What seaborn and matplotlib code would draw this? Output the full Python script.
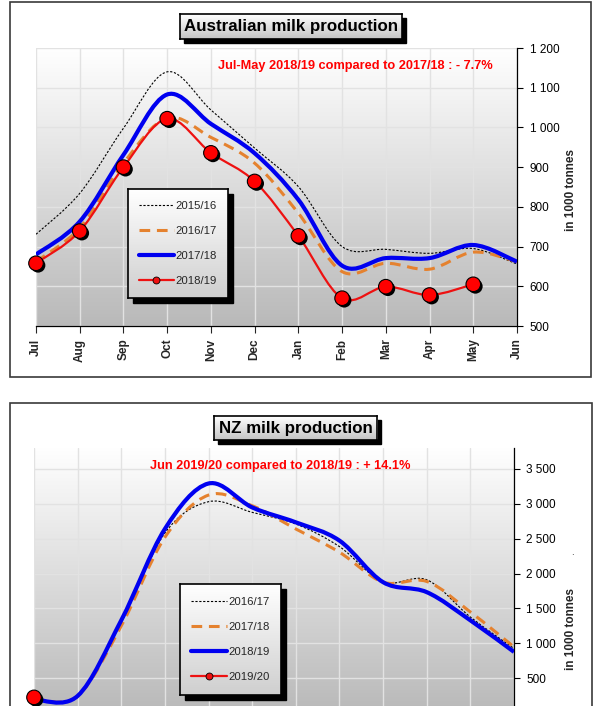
"""
Australian and NZ milk production, monthly, in 1000 tonnes
two stacked panels, smoothed lines like the spreadsheet original
"""

import numpy as np
import pandas as pd
import matplotlib
matplotlib.use("Agg")
import matplotlib.pyplot as plt
import matplotlib.patheffects as pe
from matplotlib.path import Path
from matplotlib.patches import PathPatch, Rectangle
from matplotlib.colors import LinearSegmentedColormap
from matplotlib.lines import Line2D
from matplotlib.ticker import FuncFormatter
import seaborn as sns

# Australia, season Jul-Jun
au_months = ["Jul", "Aug", "Sep", "Oct", "Nov", "Dec", "Jan", "Feb", "Mar", "Apr", "May", "Jun"]
au_1516 = [731, 834, 998, 1140, 1044, 948, 851, 700, 693, 683, 695, 656]
au_1617 = [662, 747, 910, 1024, 975, 910, 784, 637, 658, 643, 686, 662]
au_1718 = [680, 763, 931, 1083, 1009, 935, 818, 652, 671, 671, 704, 662]
au_1819 = [658, 739, 900, 1022, 936, 864, 727, 570, 599, 578, 605]
au_labels = ["2015/16", "2016/17", "2017/18", "2018/19"]
au_note = "Jul-May 2018/19 compared to 2017/18 : - 7.7%"

# New Zealand, season Jun-May
nz_months = ["Jun", "Jul", "Aug", "Sep", "Oct", "Nov", "Dec", "Jan", "Feb", "Mar", "Apr", "May"]
nz_1617 = [200, 250, 1300, 2580, 3030, 2877, 2710, 2386, 1880, 1910, 1376, 924]
nz_1718 = [200, 245, 1250, 2520, 3125, 2972, 2639, 2305, 1876, 1886, 1448, 948]
nz_1819 = [196, 245, 1330, 2640, 3291, 2948, 2734, 2472, 1876, 1733, 1329, 876]
nz_1920 = [224]
nz_labels = ["2016/17", "2017/18", "2018/19", "2019/20"]
nz_note = "Jun 2019/20 compared to 2018/19 : + 14.1%"

W, H = 600, 706

sns.set_style("white")
plt.rcParams["font.family"] = ["Liberation Sans", "DejaVu Sans"]

styles = [
    dict(color="black", lw=0.8, ls=(0, (2, 1.5))),
    dict(color="#e5822f", lw=2.2, ls=(0, (3.5, 2.2))),
    dict(color="#0000f0", lw=3.0, ls="-"),
    dict(color="#ee1111", lw=1.6, ls="-"),
]


def fig_rect(x0, y0, x1, y1):
    # pixel box (top-left origin) -> figure fraction [l, b, w, h]
    return [x0 / W, 1 - y1 / H, (x1 - x0) / W, (y1 - y0) / H]


def smooth_path(ys):
    # bezier through the monthly points, like excel's "smoothed line"
    pts = np.column_stack([np.arange(len(ys)), ys]).astype(float)
    verts, codes = [pts[0]], [Path.MOVETO]
    n = len(pts)
    for i in range(n - 1):
        p0 = pts[max(i - 1, 0)]
        p1, p2 = pts[i], pts[i + 1]
        p3 = pts[min(i + 2, n - 1)]
        verts += [p1 + (p2 - p0) / 6, p2 - (p3 - p1) / 6, p2]
        codes += [Path.CURVE4] * 3
    return Path(verts, codes)


def gradient_box(fig, x0, y0, x1, y1, bottom, shadow):
    fig.add_artist(Rectangle((x0 / W + shadow / W, 1 - y1 / H - shadow / H),
                             (x1 - x0) / W, (y1 - y0) / H,
                             transform=fig.transFigure, color="black", zorder=3))
    bax = fig.add_axes(fig_rect(x0, y0, x1, y1), zorder=4)
    cmap = LinearSegmentedColormap.from_list("g", [bottom, "#ffffff"])
    bax.imshow(np.linspace(0, 1, 64).reshape(-1, 1), cmap=cmap, origin="lower",
               aspect="auto", extent=(0, 1, 0, 1))
    bax.set_xlim(0, 1)
    bax.set_ylim(0, 1)
    bax.set_xticks([])
    bax.set_yticks([])
    for s in bax.spines.values():
        s.set_color("black")
        s.set_linewidth(1.2)
    return bax


def panel(fig, rect, months, series, labels, ylim, yticks, title_box, title,
          note_xy, note, legend_box, ylabel_xy, show_x):
    ax = fig.add_axes(rect)
    cmap = LinearSegmentedColormap.from_list("bg", ["#b9b9b9", "#ffffff"])
    ax.imshow(np.linspace(0, 1, 256).reshape(-1, 1), cmap=cmap, origin="lower",
              aspect="auto", extent=(0, 11, ylim[0], ylim[1]), zorder=0)
    ax.set_xlim(0, 11)
    ax.set_ylim(*ylim)

    for ys, st in zip(series, styles):
        if len(ys) > 1:
            ax.add_patch(PathPatch(smooth_path(ys), facecolor="none", edgecolor=st["color"],
                                   lw=st["lw"], linestyle=st["ls"], capstyle="butt", zorder=3))

    last = series[-1]
    df = pd.DataFrame({"x": np.arange(len(last)), "y": last})
    sc = sns.scatterplot(data=df, x="x", y="y", ax=ax, s=110, color="#ff0000",
                         edgecolor="black", linewidth=0.8, zorder=5, clip_on=False)
    sc.collections[-1].set_path_effects([pe.SimplePatchShadow(offset=(1.5, -1.5),
                                                              shadow_rgbFace="black", alpha=1),
                                         pe.Normal()])

    ax.set_xticks(range(12))
    ax.set_xticklabels(months, rotation=90, fontsize=8.5, fontweight="bold")
    ax.set_yticks(yticks)
    ax.yaxis.tick_right()
    ax.yaxis.set_major_formatter(FuncFormatter(lambda v, p: f"{v:,.0f}".replace(",", " ")))
    ax.tick_params(axis="y", labelsize=8.5, length=4, width=0.8, pad=5, colors="black")
    ax.tick_params(axis="x", length=5, width=0.8, pad=4, bottom=True, labelbottom=show_x)
    ax.grid(True, color="#e2e2e2", lw=1.0)
    ax.set_axisbelow(True)
    ax.set_xlabel("")
    ax.set_ylabel("")
    for side in ["left", "top"]:
        ax.spines[side].set_visible(False)
    ax.spines["right"].set_color("black")
    ax.spines["bottom"].set_color("black")
    ax.spines["right"].set_linewidth(0.9)
    ax.spines["bottom"].set_linewidth(0.9)

    fig.text(ylabel_xy[0] / W, 1 - ylabel_xy[1] / H, "in 1000 tonnes", rotation=90,
             fontsize=8.5, fontweight="bold", ha="center", va="center")
    fig.text(note_xy[0] / W, 1 - note_xy[1] / H, note, color="#ff0000", fontsize=9.2,
             fontweight="bold", ha="center", va="center")

    tax = gradient_box(fig, *title_box, bottom="#c4c4c4", shadow=4)
    tax.text(0.5, 0.5, title, ha="center", va="center", fontsize=12.2, fontweight="bold",
             color="black")

    lax = gradient_box(fig, *legend_box, bottom="#cfcfcf", shadow=5)
    handles = []
    for st in styles[:3]:
        handles.append(Line2D([], [], color=st["color"], lw=st["lw"], ls=st["ls"]))
    handles.append(Line2D([], [], color=styles[3]["color"], lw=styles[3]["lw"], marker="o",
                          markersize=5, markerfacecolor="#ee1111", markeredgecolor="black",
                          markeredgewidth=0.6))
    lax.legend(handles, labels, loc="center", frameon=False, fontsize=8.2,
               handlelength=3.1, handletextpad=0.15, labelspacing=1.3, borderpad=0.2)
    return ax


fig = plt.figure(figsize=(W / 100, H / 100), dpi=100)

# outer frames
fig.add_artist(Rectangle((9.5 / W, 1 - 377 / H), 581.5 / W, 375 / H, transform=fig.transFigure,
                         fill=False, edgecolor="#3a3a3a", lw=1.2))
fig.add_artist(Rectangle((10 / W, 1 - 730 / H), 582 / W, 327 / H, transform=fig.transFigure,
                         fill=False, edgecolor="#3a3a3a", lw=1.2))

panel(fig, fig_rect(36, 48, 517, 326), au_months,
      [au_1516, au_1617, au_1718, au_1819], au_labels,
      (500, 1200), range(500, 1201, 100),
      (180, 14, 402, 39), "Australian milk production",
      (355, 66), au_note, (128, 189, 228, 298), (571, 190), True)

# the NZ panel runs past the bottom edge of the picture, as in the source
panel(fig, fig_rect(34, 448, 514, 713), nz_months,
      [nz_1617, nz_1718, nz_1819, nz_1920], nz_labels,
      (0, 3800), range(500, 3501, 500),
      (214, 416, 377, 440), "NZ milk production",
      (280, 466), nz_note, (180, 584, 281, 695), (571, 629), False)

fig.text(572 / W, 1 - 552 / H, ".", fontsize=7, ha="center", va="center")

fig.savefig("out.png", dpi=100)
